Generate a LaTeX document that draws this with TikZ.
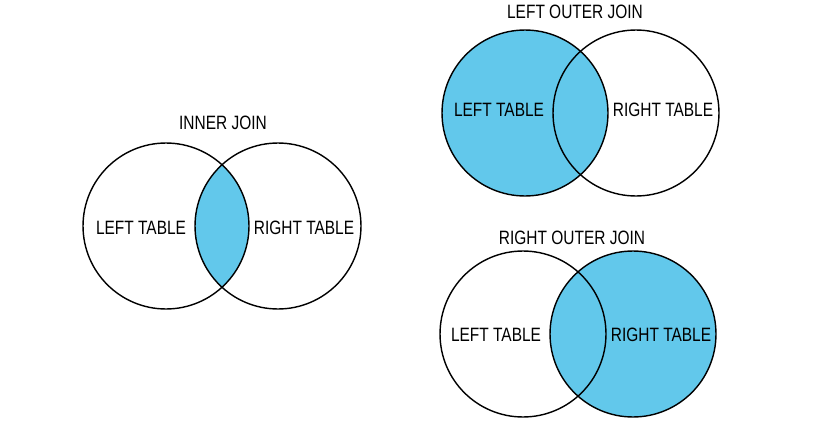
\documentclass[tikz,border=0pt]{standalone}
\usepackage{fontspec}
\setmainfont{Liberation Sans}[FakeStretch=0.8]
\usepackage{tikz}
\definecolor{joinblue}{RGB}{98,200,235}
\tikzset{
  venncircle/.style={draw, circle, line width=0.8pt, minimum size=3.32cm, inner sep=0pt},
  tbllabel/.style={font=\fontsize{11}{13}\selectfont, inner sep=0pt},
  joinlabel/.style={font=\fontsize{11}{13}\selectfont, inner sep=0pt},
}

\begin{document}
\begin{tikzpicture}[x=0.02cm,y=0.02cm]
            \useasboundingbox (0,0) rectangle (828,427);
            % inner join
            \begin{scope}
                \clip (166,201) circle [radius=83];
                \fill [joinblue] (278,201) circle [radius=83];
            \end{scope}
            \node [venncircle] (ijleft) at (166,201) {};
            \node [venncircle] (ijright) at (278,201) {};
            \node [joinlabel] (ijtitle) at (223,304) {INNER JOIN};
            \node [tbllabel] (ijlefttext) at (141,199) {LEFT TABLE};
            \node [tbllabel] (ijrighttext) at (304,199) {RIGHT TABLE};
            % left outer join
            \fill [joinblue] (525,314) circle [radius=83];
            \node [venncircle] (lojleft) at (525,314) {};
            \node [venncircle] (lojright) at (636,314) {};
            \node [joinlabel] (lojtitle) at (575,415) {LEFT OUTER JOIN};
            \node [tbllabel] (lojlefttext) at (499,317) {LEFT TABLE};
            \node [tbllabel] (lojrighttext) at (663,317) {RIGHT TABLE};
            % right outer join
            \fill [joinblue] (633,93) circle [radius=83];
            \node [venncircle] (rojleft) at (523,93) {};
            \node [venncircle] (rojright) at (633,93) {};
            \node [joinlabel] (rojtitle) at (572,189) {RIGHT OUTER JOIN};
            \node [tbllabel] (rojlefttext) at (496,92) {LEFT TABLE};
            \node [tbllabel] (rojrighttext) at (661,92) {RIGHT TABLE};
        \end{tikzpicture}
\end{document}
